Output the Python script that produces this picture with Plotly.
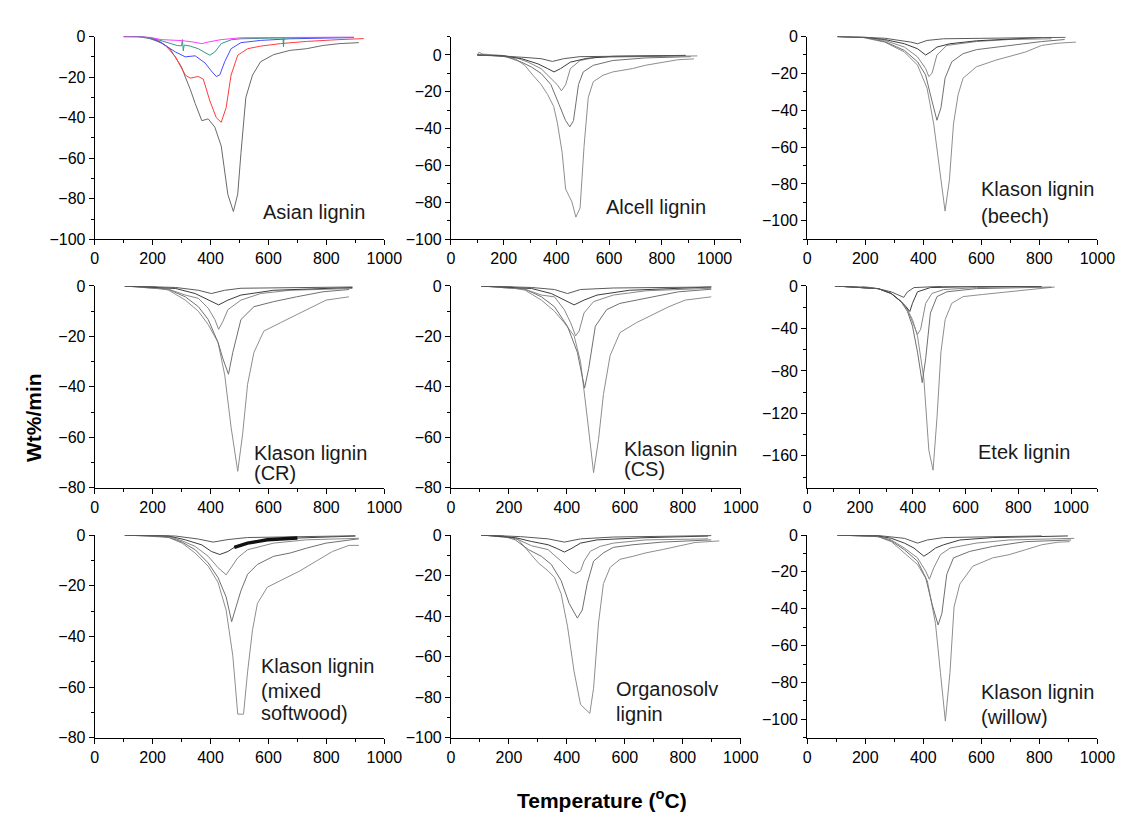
import plotly.graph_objects as go

# ---------------- data: (temperature °C, DTG wt%/min) ----------------
asian_1 = [(100,0),(150,0),(190,-1),(230,-3),(260,-6),(279,-10),(300,-15),(313,-20),(330,-26),(347,-33),(370,-41.5),(392,-40.6),(415,-44.7),(437,-54),(460,-78),(479,-86.3),(494,-77.7),(505,-57.6),(522,-30),(545,-19),(573,-12.4),(618,-8.9),(675,-6.8),(731,-6),(788,-4.4),(844,-3.5),(912,-3)]
asian_2 = [(100,0),(150,0),(189,-0.5),(220,-2),(245,-4.4),(279,-10),(313,-19),(330,-20.5),(358,-19.7),(375,-21),(398,-31.8),(420,-40),(437,-42.3),(454,-35),(471,-19),(494,-9.2),(528,-6),(573,-4.7),(641,-3.5),(731,-2.4),(844,-1.5),(929,-1)]
asian_3 = [(100,0),(166,0),(200,-1),(234,-3.5),(279,-7.6),(313,-10),(347,-9.5),(381,-13),(403,-17),(420,-19.7),(432,-18.9),(449,-12.4),(471,-6),(505,-3),(573,-1.9),(675,-1.1),(895,-0.5)]
asian_4 = [(100,0),(166,0),(210,-1.2),(245,-2.7),(285,-4.4),(300,-4.6),(303,-1.5),(306,-7),(309,-4.2),(330,-4.7),(358,-6),(381,-7.9),(398,-9.2),(415,-7.6),(437,-3.5),(471,-1.6),(505,-1.1),(600,-0.8),(650,-0.7),(652,-5),(654,-0.3),(656,-0.7),(731,-0.5),(895,-0.3)]
asian_5 = [(100,0),(150,0),(189,-0.3),(230,-1.5),(302,-2),(340,-2.7),(370,-3.5),(392,-2.7),(437,-1.5),(505,-0.6),(700,-0.3),(895,-0.2)]

alcell_1 = [(100,0),(181,-0.3),(243,-2),(280,-5.6),(311,-11),(342,-16),(367,-21.5),(390,-28),(404,-37),(422,-53),(435,-72.7),(459,-79.7),(474,-88),(490,-83),(505,-49.7),(521,-23),(540,-14.5),(577,-11),(614,-9.2),(688,-7.4),(737,-5.6),(799,-3.9),(860,-2.6),(922,-2.1)]
alcell_2 = [(100,0),(200,-0.5),(268,-3.9),(305,-6.5),(342,-10),(379,-16),(410,-26.8),(435,-35.6),(451,-39),(465,-35.6),(484,-16),(502,-9.2),(540,-5.6),(614,-3),(737,-1.6),(910,-0.9)]
alcell_3 = [(100,0),(107,1.5),(120,0.5),(200,-0.3),(243,-1.2),(293,-3.9),(342,-7.4),(379,-12.7),(404,-16.2),(419,-19.4),(435,-16.2),(453,-7.4),(490,-3),(552,-1.2),(860,-0.4),(935,-0.5)]
alcell_4 = [(100,0),(200,-0.5),(268,-2),(330,-4.8),(367,-7.4),(391,-9.2),(416,-7.4),(453,-3.9),(515,-1.8),(614,-0.7),(890,-0.2)]
alcell_5 = [(100,0),(200,-0.5),(268,-1.2),(342,-2),(385,-3.5),(428,-2),(490,-0.9),(890,-0.3)]

beech_1 = [(104,0),(188,-0.4),(267,-3),(335,-8.4),(380,-15.5),(413,-28),(436,-47.5),(459,-74),(475,-94.7),(490,-77.8),(504,-47.5),(520,-31.5),(537,-22.6),(583,-16.4),(650,-12.8),(752,-8.4),(808,-4.8),(864,-3.6),(926,-3)]
beech_2 = [(104,0),(200,-0.5),(267,-2.7),(335,-7.5),(380,-13.7),(408,-20.8),(430,-35),(447,-45.4),(461,-38.6),(475,-22.6),(498,-13.7),(537,-9.3),(583,-7.1),(695,-4.8),(808,-2.7),(887,-1.6)]
beech_3 = [(104,0),(200,-0.4),(267,-2.1),(335,-5.7),(380,-11),(408,-17.3),(419,-21.7),(430,-20),(447,-10),(481,-4.8),(583,-2.7),(695,-1.6),(842,-1.2)]
beech_4 = [(104,0),(200,-0.3),(267,-1.6),(335,-3.9),(380,-6.6),(408,-10),(425,-8.4),(447,-5.7),(492,-3.9),(583,-2.3),(808,-0.5)]
beech_5 = [(104,0),(267,-0.9),(357,-3),(380,-3.9),(413,-2.1),(470,-1.2),(890,-0.4)]

cr_1 = [(104,0),(200,-0.1),(256,-1.7),(313,-5.6),(358,-10),(392,-15.3),(426,-22.4),(449,-35.3),(471,-56),(494,-73.5),(511,-58.6),(528,-39),(550,-26.3),(584,-17.9),(641,-14.6),(697,-11.4),(754,-8.2),(799,-5.6),(878,-4.3)]
cr_2 = [(104,0),(256,-1.4),(313,-4.3),(358,-8.2),(392,-13.3),(426,-22.4),(443,-28.9),(462,-35),(477,-26.3),(505,-13.3),(550,-8.2),(618,-6.2),(697,-4.3),(788,-2.3),(878,-1.4)]
cr_3 = [(104,0),(256,-1.3),(313,-3.6),(358,-4.9),(392,-8.8),(415,-13.3),(428,-17.2),(443,-14),(460,-9.4),(505,-5.6),(573,-3),(675,-1.7),(890,-1.0)]
cr_4 = [(104,0),(280,-1),(347,-3),(392,-5.6),(428,-7.5),(460,-5.6),(505,-3.6),(618,-1.7),(890,-0.6)]
cr_5 = [(104,0),(280,-0.6),(358,-1.7),(403,-3),(449,-1.7),(505,-0.9),(890,-0.4)]

cs_1 = [(104,0),(199,-0.1),(256,-1.7),(312,-5.6),(357,-10),(391,-14.6),(425,-19.8),(447,-30),(470,-52),(492,-74),(509,-61),(526,-43),(549,-27.6),(583,-18.5),(639,-14.6),(695,-11.4),(752,-8.2),(808,-5.6),(898,-4.3)]
cs_2 = [(104,0),(256,-1.3),(312,-4.3),(357,-8.2),(402,-16),(436,-26.3),(461,-40.5),(475,-32.8),(498,-16),(537,-9.4),(583,-6.9),(673,-4.9),(785,-2.3),(898,-1.3)]
cs_3 = [(104,0),(256,-1.3),(312,-3.6),(357,-4.3),(391,-9.4),(413,-14.6),(430,-19.8),(442,-17.9),(459,-10.7),(492,-6.2),(560,-3.6),(673,-1.9),(898,-0.9)]
cs_4 = [(104,0),(278,-1),(346,-3),(391,-5.6),(425,-7.5),(459,-5.6),(504,-3.6),(616,-1.7),(898,-0.4)]
cs_5 = [(104,0),(278,-0.6),(357,-1.4),(402,-3),(447,-1.4),(560,-0.8),(898,-0.4)]

etek_1 = [(105,0),(207,-0.3),(269,-2.5),(318,-7),(356,-14.7),(380,-22.4),(399,-31.6),(418,-47),(442,-87),(461,-154.5),(477,-173.5),(492,-123.8),(507,-62),(523,-31.6),(548,-16.3),(591,-10),(665,-8),(765,-5.5),(888,-2.5),(938,-1)]
etek_2 = [(105,0),(269,-2.5),(318,-7),(356,-14.7),(380,-24),(399,-37.8),(418,-62.3),(436,-91),(449,-68.5),(467,-25.5),(492,-10),(529,-5.5),(641,-2.5),(926,-1)]
etek_3 = [(105,0),(269,-2.5),(318,-7),(356,-14.7),(380,-22.4),(399,-34.7),(418,-45.5),(430,-40.8),(449,-16.3),(473,-7),(517,-3.4),(641,-1.5),(888,-0.6)]
etek_4 = [(105,0),(269,-2.5),(318,-7),(356,-14.7),(374,-19.3),(389,-24),(399,-16.3),(418,-5.5),(467,-1.5),(641,-0.6),(888,-0.3)]
etek_5 = [(105,0),(269,-2.5),(318,-5.5),(349,-8.6),(366,-10.7),(380,-5.5),(405,-1.5),(517,-0.3),(888,0)]

soft_1 = [(104,0),(200,-0.1),(256,-1),(302,-3.2),(347,-7.1),(392,-12.3),(426,-18.7),(454,-29.7),(477,-47.7),(494,-70.7),(514,-70.7),(528,-54),(545,-37.4),(562,-27),(596,-20.6),(652,-17.4),(708,-14.2),(765,-10.3),(821,-6.5),(878,-4.1),(912,-4.1)]
soft_2 = [(104,0),(256,-0.9),(302,-2.8),(347,-5.8),(392,-11),(426,-16.8),(454,-24.5),(473,-34.2),(488,-28.4),(505,-22),(528,-15.5),(562,-11.6),(618,-8.4),(675,-7.1),(731,-5.2),(799,-3.2),(912,-1.5)]
soft_3 = [(104,0),(256,-0.6),(302,-2.3),(347,-4.5),(392,-8.4),(426,-12.9),(454,-15.7),(471,-12.9),(494,-9),(528,-5.8),(618,-3.2),(731,-1.9),(912,-1.3)]
soft_4 = [(104,0),(256,-0.4),(313,-1.9),(370,-3.9),(403,-6.5),(432,-7.7),(460,-6.5),(482,-4.9),(528,-3.2),(596,-1.9),(675,-1.3),(900,-0.4)]
soft_4_band = [(482,-4.9),(505,-4),(528,-3.2),(560,-2.6),(596,-1.9),(640,-1.6),(700,-1.2)]
soft_5 = [(104,0),(279,-0.4),(358,-1.6),(409,-2.8),(460,-1.8),(528,-1),(900,-0.3)]

org_1 = [(104,0),(199,-0.8),(233,-2.4),(267,-8),(301,-13.7),(335,-17.7),(357,-20.9),(380,-29),(402,-45),(425,-67.5),(447,-83.6),(479,-88),(492,-75.6),(509,-43.4),(526,-24),(549,-16),(583,-12),(628,-10.5),(673,-8.8),(729,-7.2),(785,-5.3),(842,-3.7),(926,-2.9)]
org_2 = [(104,0),(180,-0.5),(222,-2.4),(267,-7.2),(312,-10.5),(346,-14.5),(380,-22.5),(408,-33.8),(436,-41),(453,-37),(470,-24),(492,-12.9),(526,-8.8),(560,-6.1),(628,-4.8),(729,-3.5),(898,-2.4)]
org_3 = [(104,0),(222,-1.6),(278,-5.3),(335,-7.2),(380,-12.9),(414,-17.7),(430,-19),(447,-17.7),(459,-12.9),(481,-8),(515,-5.6),(560,-4),(673,-2.4),(887,-1.9)]
org_4 = [(104,0),(222,-1.3),(278,-3.2),(335,-4.8),(368,-6.8),(391,-8.4),(414,-6.8),(447,-4),(504,-2.4),(673,-1.3),(887,-0.5)]
org_5 = [(104,0),(240,-0.8),(335,-1.9),(391,-3.5),(447,-1.9),(560,-1),(898,-0.3)]

willow_1 = [(104,0),(245,-0.9),(290,-3.6),(335,-9.8),(380,-16),(414,-24.9),(442,-48),(459,-74.6),(476,-101),(492,-74.6),(506,-39),(526,-26.6),(571,-16.9),(639,-12.4),(695,-10.7),(752,-8),(808,-5.3),(864,-3.9),(904,-3.6)]
willow_2 = [(104,0),(245,-0.9),(290,-3.2),(335,-8),(380,-14.2),(408,-23),(430,-37.3),(451,-48.8),(464,-42.6),(481,-21.3),(504,-12.4),(560,-8.9),(639,-6.2),(752,-3.6),(909,-2.7)]
willow_3 = [(104,0),(245,-0.7),(290,-2.7),(335,-7.1),(380,-12.4),(408,-19.5),(421,-24),(436,-17.8),(459,-10.7),(492,-7.1),(582,-4.4),(695,-2.7),(920,-1.8)]
willow_4 = [(104,0),(245,-0.5),(290,-1.8),(335,-4.4),(368,-7.1),(391,-9.8),(402,-11.5),(419,-9.8),(442,-7.1),(470,-5.3),(526,-2.7),(639,-1.4),(898,-0.5)]
willow_5 = [(104,0),(245,-0.3),(335,-1.8),(380,-4.4),(414,-2.7),(470,-1.4),(808,-0.5)]

panel_labels = [["Asian lignin"], ["Alcell lignin"], ["Klason lignin", "(beech)"],
                ["Klason lignin", "(CR)"], ["Klason lignin", "(CS)"], ["Etek lignin"],
                ["Klason lignin", "(mixed", "softwood)"], ["Organosolv", "lignin"], ["Klason lignin", "(willow)"]]
x_ranges = [1000, 1100, 1000, 1000, 1000, 1100, 1000, 1000, 1000]
y_ranges = [(-100, 0), (-100, 10), (-110, 0), (-80, 0), (-80, 0), (-190, 0), (-80, 0), (-100, 0), (-110, 0)]
y_dticks = [20, 20, 20, 20, 20, 40, 20, 20, 20]
x_label = "Temperature (<sup>o</sup>C)"
y_label = "Wt%/min"

# ---------------- styling / layout ----------------
W, H = 1129, 820
col_px = [(84.3, 379.7), (447.7, 743.3), (811, 1107)]
row_px = [(21, 228), (275.7, 481.7), (530, 737)]
label_pos = [  # left x px, line-centre y px for each line
    (254, [200]), (604, [195]), (986, [177, 204]),
    (245, [446, 467]), (622, [442, 463]), (983, [445]),
    (252, [664, 689, 712]), (614, [687, 713]), (986, [690, 716]),
]
GR_COLORS = ["#8e8e8e", "#707070", "#888888", "#3c3c3c", "#5a5a5a"]
ASIAN_COLORS = ["#6a6a6a", "#ff3c3c", "#4a4aff", "#2f9a86", "#ff3cff"]

panels = [
    [asian_1, asian_2, asian_3, asian_4, asian_5],
    [alcell_1, alcell_2, alcell_3, alcell_4, alcell_5],
    [beech_1, beech_2, beech_3, beech_4, beech_5],
    [cr_1, cr_2, cr_3, cr_4, cr_5],
    [cs_1, cs_2, cs_3, cs_4, cs_5],
    [etek_1, etek_2, etek_3, etek_4, etek_5],
    [soft_1, soft_2, soft_3, soft_4, soft_5],
    [org_1, org_2, org_3, org_4, org_5],
    [willow_1, willow_2, willow_3, willow_4, willow_5],
]

FONT = "Liberation Sans, Arial, sans-serif"
fig = go.Figure()
layout = dict(width=W, height=H, margin=dict(l=0, r=0, t=0, b=0),
              paper_bgcolor="white", plot_bgcolor="white", showlegend=False,
              font=dict(family=FONT, size=16, color="black"))
annotations = []

for i, curves in enumerate(panels):
    r, c = divmod(i, 3)
    sfx = "" if i == 0 else str(i + 1)
    xa, ya = "x" + sfx, "y" + sfx
    colors = ASIAN_COLORS if i == 0 else GR_COLORS
    for k, cur in enumerate(curves):
        fig.add_trace(go.Scatter(x=[p[0] for p in cur], y=[p[1] for p in cur], mode="lines",
                                 line=dict(color=colors[k], width=1), xaxis=xa, yaxis=ya,
                                 hoverinfo="skip"))
    if i == 6:
        fig.add_trace(go.Scatter(x=[p[0] for p in soft_4_band], y=[p[1] for p in soft_4_band],
                                 mode="lines", line=dict(color="#111111", width=3.5),
                                 xaxis=xa, yaxis=ya, hoverinfo="skip"))
    x0, x1 = col_px[c]
    y0, y1 = row_px[r]
    common = dict(showgrid=False, zeroline=False, showline=True, linecolor="black", linewidth=1,
                  ticks="outside", ticklen=5, tickwidth=1, tickcolor="black",
                  tickfont=dict(family=FONT, size=16, color="black"))
    layout["xaxis" + sfx] = dict(domain=[x0 / W, x1 / W], anchor=ya, range=[0, x_ranges[i]],
                                 tick0=0, dtick=200,
                                 minor=dict(ticks="outside", dtick=100, ticklen=3, tickcolor="black"),
                                 **common)
    layout["yaxis" + sfx] = dict(domain=[1 - y1 / H, 1 - y0 / H], anchor=xa, range=list(y_ranges[i]),
                                 tick0=0, dtick=y_dticks[i],
                                 minor=dict(ticks="outside", dtick=y_dticks[i] / 2, ticklen=3, tickcolor="black"),
                                 **common)
    lx, lys = label_pos[i]
    for txt, ly in zip(panel_labels[i], lys):
        annotations.append(dict(text=txt, x=lx / W, y=1 - ly / H, xref="paper", yref="paper",
                                xanchor="left", yanchor="middle", showarrow=False,
                                font=dict(family=FONT, size=20, color="#1a1a1a")))

annotations.append(dict(text="<b>" + y_label + "</b>", x=22 / W, y=1 - 410 / H, xref="paper", yref="paper",
                        textangle=-90, showarrow=False, xanchor="center", yanchor="middle",
                        font=dict(family=FONT, size=21, color="black")))
annotations.append(dict(text="<b>" + x_label + "</b>", x=602 / W, y=1 - 800 / H, xref="paper", yref="paper",
                        showarrow=False, xanchor="center", yanchor="middle",
                        font=dict(family=FONT, size=21, color="black")))
layout["annotations"] = annotations
fig.update_layout(**layout)
fig.write_html("out.html")
